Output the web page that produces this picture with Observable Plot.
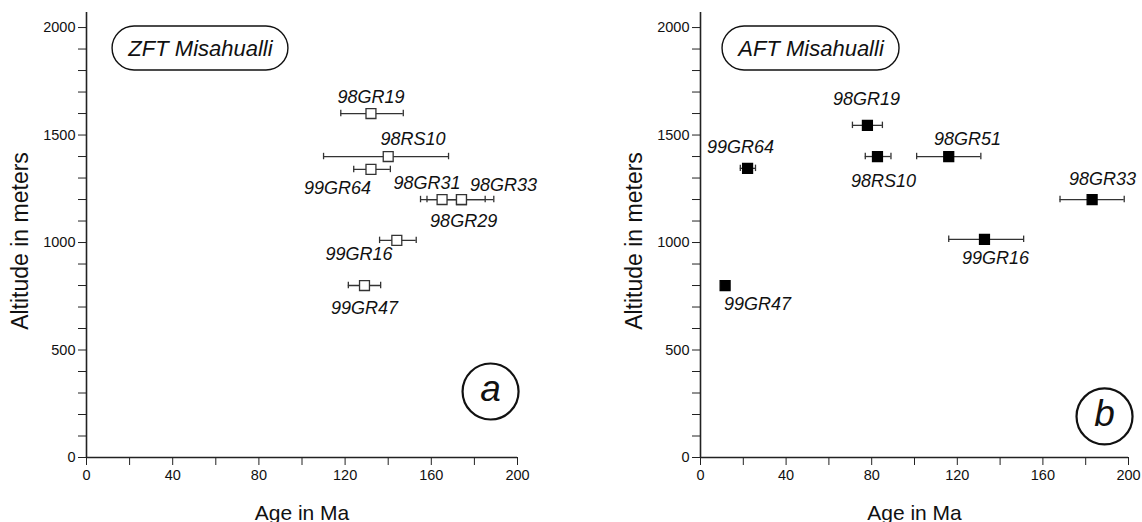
<!DOCTYPE html>
<html>
<head>
<meta charset="utf-8">
<script src="https://cdn.jsdelivr.net/npm/d3@7"></script>
<script src="https://cdn.jsdelivr.net/npm/@observablehq/plot@0.6"></script>
<style>
  body { margin: 0; background: white; }
  #wrap { display: flex; width: 1142px; height: 522px; }
</style>
</head>
<body>
<div id="wrap"></div>
<script>
// ---- ZFT (left panel) data ----
const zftNames = ["98GR19", "98RS10", "99GR64", "98GR31", "98GR29", "98GR33", "99GR16", "99GR47"];
const zftAge   = [132, 140, 132, 165, 174, 174, 144, 129];
const zftLo    = [118, 110, 124, 155, 158, 163, 136, 121.5];
const zftHi    = [147, 168, 141, 174, 189, 185, 153, 136.5];
const zftAlt   = [1600, 1400, 1340, 1200, 1200, 1200, 1010, 800];
// label anchors (data units)
const zftLabelAge = [132, 151.5, 116.5, 158, 175, 193.5, 126.5, 129];
const zftLabelAlt = [1674, 1479, 1251, 1274, 1098, 1265, 944, 693];

// ---- AFT (right panel) data ----
const aftNames = ["98GR19", "99GR64", "98RS10", "98GR51", "98GR33", "99GR16", "99GR47"];
const aftAge   = [78, 22, 82.7, 116, 183, 132.7, 11.5];
const aftLo    = [71, 18.6, 77, 101, 168, 116, 10];
const aftHi    = [85, 25.7, 89, 131, 198, 151, 13];
const aftAlt   = [1545, 1345, 1400, 1400, 1200, 1015, 800];
const aftLabelAge = [77.6, 18.7, 85.5, 124.8, 187.9, 137.9, 26.6];
const aftLabelAlt = [1668, 1442, 1284, 1479, 1293, 926, 712];

const xTicks = d3.range(0, 201, 20);
const yTicks = d3.range(0, 2001, 100);

function rows(names, age, lo, hi, alt, la, lalt) {
  return names.map((n, i) => ({name: n, age: age[i], lo: lo[i], hi: hi[i], alt: alt[i], lx: la[i], ly: lalt[i]}));
}

const FONT = "'Liberation Sans', Arial, Helvetica, sans-serif";

function panel({data, title, letter, letterPos, boxX, ml, mr, filled}) {
  return Plot.plot({
    width: 571, height: 522,
    marginLeft: ml, marginRight: mr, marginTop: 12, marginBottom: 65,
    x: {domain: [0, 200], label: null},
    y: {domain: [0, 2070], label: null},
    style: {fontFamily: FONT, background: "white", overflow: "visible", color: "#111"},
    marks: [
      Plot.axisY({ticks: yTicks, tickSize: 8, tickPadding: 3, fontSize: 14.5,
        tickFormat: d => d % 500 === 0 ? String(d) : "", label: null, stroke: "#222"}),
      Plot.axisX({ticks: xTicks, tickSize: 8, tickPadding: 4, fontSize: 14.5,
        tickFormat: d => d % 40 === 0 ? String(d) : "", label: null, stroke: "#222"}),
      Plot.ruleX([0], {y1: 0, y2: 2070, stroke: "#222", strokeWidth: 1.6}),
      Plot.ruleY([0], {x1: 0, x2: 200, stroke: "#222", strokeWidth: 1.6}),
      // axis titles
      Plot.text(["Altitude in meters"], {frameAnchor: "left", dx: -66, dy: 6, rotate: -90,
        textAnchor: "middle", lineAnchor: "middle", fontSize: 23, fill: "#111"}),
      Plot.text(["Age in Ma"], {frameAnchor: "bottom", dy: 56, textAnchor: "middle", lineAnchor: "middle",
        fontSize: 21, fill: "#111"}),
      // title box
      Plot.rect([title], {x1: boxX[0], x2: boxX[1], y1: 1800, y2: 2005, rx: 22, fill: "white", stroke: "#111", strokeWidth: 1.4}),
      Plot.text([title], {x: (boxX[0] + boxX[1]) / 2, y: 1902, fontSize: 22, fontStyle: "italic", fill: "#111"}),
      // panel letter
      Plot.dot([letter], {x: letterPos[0], y: letterPos[1], r: 28, stroke: "#111", strokeWidth: 2.2, fill: "white"}),
      Plot.text([letter], {x: letterPos[0], y: letterPos[1], fontSize: 37, fontStyle: "italic", fill: "#111", dy: -2}),
      // error bars
      Plot.ruleY(data, {y: "alt", x1: "lo", x2: "hi", stroke: "#333", strokeWidth: 1.3}),
      Plot.ruleX(data, {x: "lo", y1: d => d.alt - 15, y2: d => d.alt + 15, stroke: "#333", strokeWidth: 1.3}),
      Plot.ruleX(data, {x: "hi", y1: d => d.alt - 15, y2: d => d.alt + 15, stroke: "#333", strokeWidth: 1.3}),
      // points
      Plot.dot(data, {x: "age", y: "alt", symbol: "square", r: 5.6,
        fill: filled ? "#000" : "white", stroke: filled ? "#000" : "#333", strokeWidth: 1.3}),
      // labels
      Plot.text(data, {x: "lx", y: "ly", text: "name", fontSize: 18, fontStyle: "italic", fill: "#111"})
    ]
  });
}

const wrap = document.getElementById("wrap");
wrap.appendChild(panel({
  data: rows(zftNames, zftAge, zftLo, zftHi, zftAlt, zftLabelAge, zftLabelAlt),
  title: "ZFT Misahualli", letter: "a", letterPos: [187.5, 307], boxX: [12.1, 93.7],
  ml: 86, mr: 54, filled: false
}));
wrap.appendChild(panel({
  data: rows(aftNames, aftAge, aftLo, aftHi, aftAlt, aftLabelAge, aftLabelAlt),
  title: "AFT Misahualli", letter: "b", letterPos: [188.8, 191], boxX: [10.3, 93],
  ml: 129, mr: 14, filled: true
}));
</script>
</body>
</html>
